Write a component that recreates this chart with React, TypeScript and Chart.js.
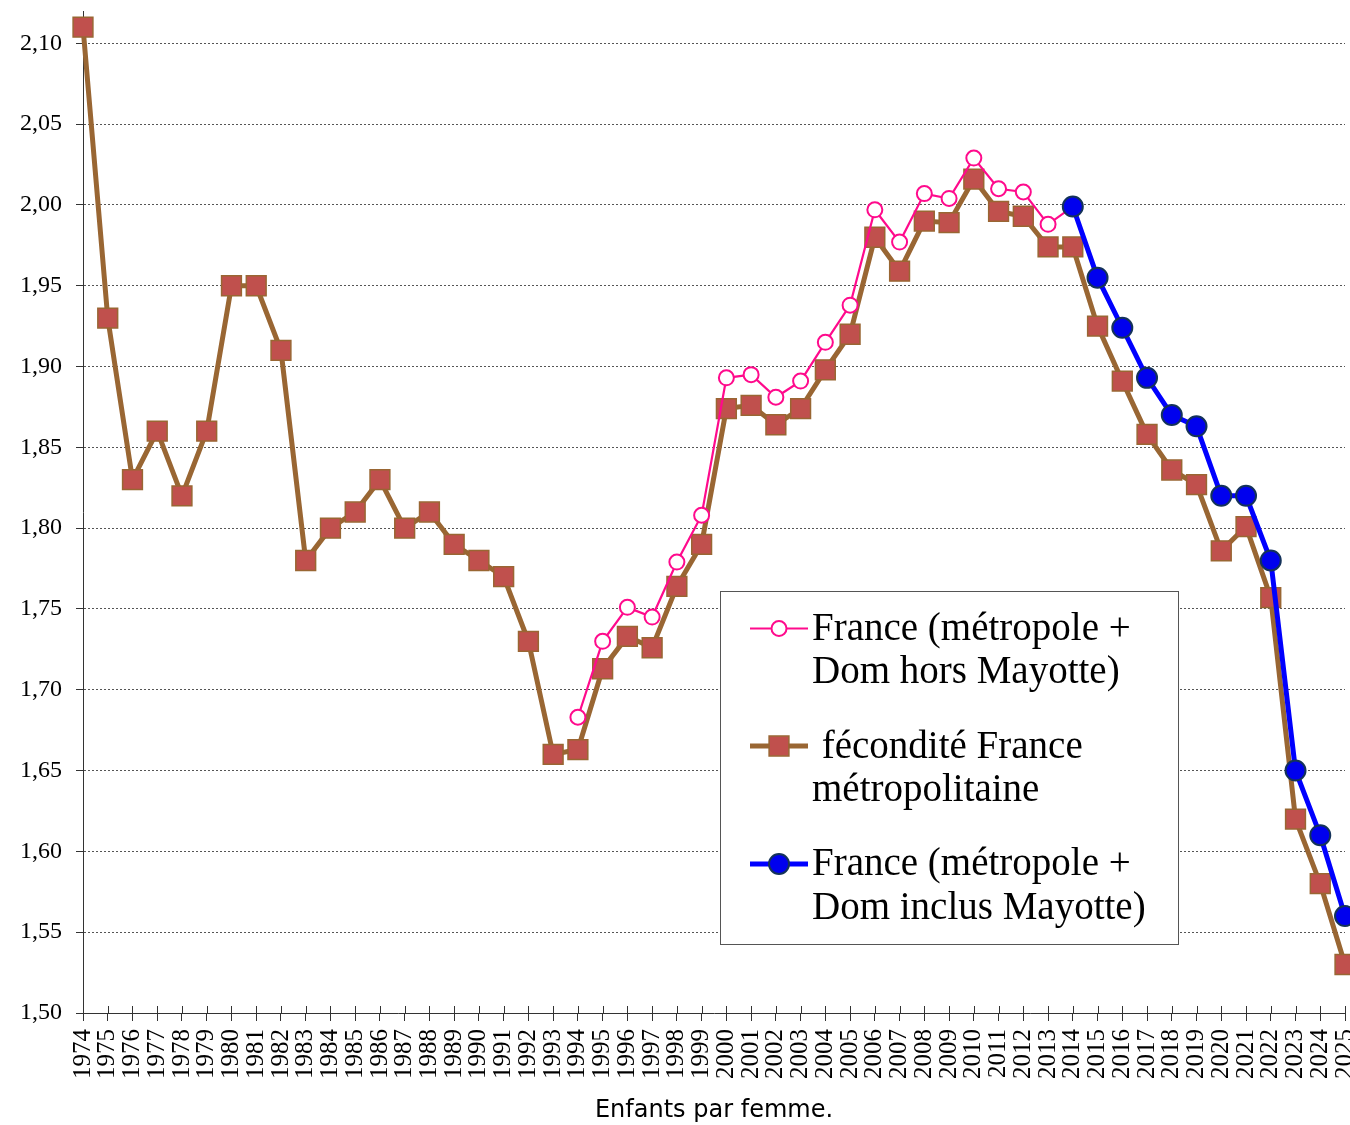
import React, { useEffect, useRef } from 'react';
import { Chart, registerables } from 'chart.js';

Chart.register(...registerables);

const years = [
  '1974', '1975', '1976', '1977', '1978', '1979', '1980', '1981', '1982', '1983',
  '1984', '1985', '1986', '1987', '1988', '1989', '1990', '1991', '1992', '1993',
  '1994', '1995', '1996', '1997', '1998', '1999', '2000', '2001', '2002', '2003',
  '2004', '2005', '2006', '2007', '2008', '2009', '2010', '2011', '2012', '2013',
  '2014', '2015', '2016', '2017', '2018', '2019', '2020', '2021', '2022', '2023',
  '2024', '2025',
];

// fécondité France métropolitaine (1974-2025)
const metropole = [
  2.11, 1.93, 1.83, 1.86, 1.82, 1.86, 1.95, 1.95, 1.91, 1.78,
  1.80, 1.81, 1.83, 1.80, 1.81, 1.79, 1.78, 1.77, 1.73, 1.66,
  1.663, 1.713, 1.733, 1.726, 1.764, 1.79, 1.874, 1.876, 1.864, 1.874,
  1.898, 1.92, 1.98, 1.959, 1.99, 1.989, 2.016, 1.996, 1.993, 1.974,
  1.974, 1.925, 1.891, 1.858, 1.836, 1.827, 1.786, 1.801, 1.757, 1.62,
  1.58, 1.53,
];

// France (métropole + Dom hors Mayotte), 1994-2014
const horsMayotte = [
  null, null, null, null, null, null, null, null, null, null,
  null, null, null, null, null, null, null, null, null, null,
  1.683, 1.73, 1.751, 1.745, 1.779, 1.808, 1.893, 1.895, 1.881, 1.891,
  1.915, 1.938, 1.997, 1.977, 2.007, 2.004, 2.029, 2.01, 2.008, 1.988,
  1.999, null, null, null, null, null, null, null, null, null,
  null, null,
];

// France (métropole + Dom inclus Mayotte), 2014-2025
const inclusMayotte = [
  null, null, null, null, null, null, null, null, null, null,
  null, null, null, null, null, null, null, null, null, null,
  null, null, null, null, null, null, null, null, null, null,
  null, null, null, null, null, null, null, null, null, null,
  1.999, 1.955, 1.924, 1.893, 1.87, 1.863, 1.82, 1.82, 1.78, 1.65,
  1.61, 1.56,
];

const yTicks = [1.5, 1.55, 1.6, 1.65, 1.7, 1.75, 1.8, 1.85, 1.9, 1.95, 2.0, 2.05, 2.1];

const seriesNames = [
  ['France (métropole +', 'Dom hors Mayotte)'],
  [' fécondité France', 'métropolitaine'],
  ['France (métropole +', 'Dom inclus Mayotte)'],
];
const xTitle = 'Enfants par femme.';

const SERIF = '"Liberation Serif", "Times New Roman", serif';

const PINK = '#FF0A8C';
const BROWN = '#996633';
const SQUARE = '#C0504D';
const BLUE = '#0000FF';
const BLUE_FILL = '#0000EE';
const BLUE_EDGE = '#14325A';

const xTicksUpPlugin = {
  id: 'xTicksUp',
  afterDatasetsDraw(chart: any) {
    const { ctx, chartArea } = chart;
    const x = chart.scales.x;
    ctx.save();
    ctx.strokeStyle = '#333';
    ctx.lineWidth = 1;
    ctx.beginPath();
    x.ticks.forEach((_t: any, i: number) => {
      const px = Math.round(x.getPixelForTick(i)) + 0.5;
      ctx.moveTo(px, chartArea.bottom - 7);
      ctx.lineTo(px, chartArea.bottom);
    });
    ctx.stroke();
    ctx.restore();
  },
};

const boxLegendPlugin = {
  id: 'boxLegend',
  afterDraw(chart: any) {
    const { ctx } = chart;
    const ds = chart.data.datasets;
    ctx.save();
    const bx = 720.5, by = 591.5, bw = 458, bh = 353;
    ctx.fillStyle = '#fff';
    ctx.fillRect(bx, by, bw, bh);
    ctx.strokeStyle = '#555';
    ctx.lineWidth = 1;
    ctx.strokeRect(bx, by, bw, bh);

    const markerYs = [628.5, 746, 864];
    const baselines = [[640, 683], [758, 801], [875, 919]];
    const lx1 = 750, lx2 = 808, mx = 779;

    ds.forEach((d: any, i: number) => {
      const my = markerYs[i];
      ctx.strokeStyle = d.borderColor;
      ctx.lineWidth = d.borderWidth;
      ctx.setLineDash([]);
      ctx.beginPath();
      ctx.moveTo(lx1, my);
      ctx.lineTo(lx2, my);
      ctx.stroke();
      ctx.fillStyle = d.pointBackgroundColor;
      ctx.strokeStyle = d.pointBorderColor;
      ctx.lineWidth = d.pointBorderWidth;
      ctx.beginPath();
      if (d.pointStyle === 'rect') {
        const s = d.pointRadius * Math.SQRT1_2;
        ctx.rect(mx - s, my - s, 2 * s, 2 * s);
      } else {
        ctx.arc(mx, my, d.pointRadius, 0, Math.PI * 2);
      }
      ctx.fill();
      ctx.stroke();

      ctx.fillStyle = '#000';
      ctx.font = `39px ${SERIF}`;
      ctx.textAlign = 'left';
      ctx.textBaseline = 'alphabetic';
      seriesNames[i].forEach((t, j) => {
        ctx.fillText(t, 812, baselines[i][j]);
      });
    });
    ctx.restore();
  },
};

export default function App() {
  const ref = useRef<HTMLCanvasElement | null>(null);

  useEffect(() => {
    if (!ref.current) return;
    const chart = new Chart(ref.current, {
      type: 'line',
      data: {
        labels: years,
        datasets: [
          {
            label: seriesNames[0].join(' '),
            data: horsMayotte,
            borderColor: PINK,
            borderWidth: 2.2,
            pointStyle: 'circle',
            pointRadius: 7.5,
            pointBackgroundColor: '#fff',
            pointBorderColor: PINK,
            pointBorderWidth: 2,
            order: 1,
            clip: false,
            tension: 0,
          } as any,
          {
            label: seriesNames[1].join(' '),
            data: metropole,
            borderColor: BROWN,
            borderWidth: 5,
            pointStyle: 'rect',
            pointRadius: 14,
            pointBackgroundColor: SQUARE,
            pointBorderColor: BROWN,
            pointBorderWidth: 1.5,
            order: 2,
            clip: false,
            tension: 0,
          } as any,
          {
            label: seriesNames[2].join(' '),
            data: inclusMayotte,
            borderColor: BLUE,
            borderWidth: 5,
            pointStyle: 'circle',
            pointRadius: 10,
            pointBackgroundColor: BLUE_FILL,
            pointBorderColor: BLUE_EDGE,
            pointBorderWidth: 2,
            order: 0,
            clip: false,
            tension: 0,
          } as any,
        ],
      },
      options: {
        responsive: false,
        animation: false,
        layout: { autoPadding: false, padding: { top: 11, right: 0, bottom: 0, left: 0 } },
        plugins: {
          legend: { display: false },
          tooltip: { enabled: false },
        },
        scales: {
          x: {
            type: 'category',
            offset: false,
            grid: {
              display: true,
              drawOnChartArea: false,
              drawTicks: true,
              tickLength: 8,
              tickColor: '#333',
            },
            border: { display: true, color: '#333', width: 1 },
            ticks: {
              autoSkip: false,
              maxRotation: 90,
              minRotation: 90,
              padding: 8,
              color: '#000',
              font: { family: SERIF, size: 25 },
            },
            title: {
              display: true,
              text: xTitle,
              color: '#000',
              font: { family: '"DejaVu Sans", sans-serif', size: 24 },
              padding: { top: 0, bottom: 0 },
            },
            afterFit(s: any) {
              s.height = 112;
              s.paddingLeft = 0;
              s.paddingRight = 5;
            },
          } as any,
          y: {
            min: 1.5,
            max: 2.12,
            afterBuildTicks(s: any) {
              s.ticks = yTicks.map((v) => ({ value: v }));
            },
            grid: {
              display: true,
              color: '#555',
              lineWidth: 1,
              drawTicks: true,
              tickLength: 7,
              tickColor: '#333',
            },
            border: { display: true, color: '#333', width: 1, dash: [2, 2] },
            ticks: {
              padding: 14,
              color: '#000',
              font: { family: SERIF, size: 24 },
              callback: (v: any) => Number(v).toFixed(2).replace('.', ','),
            },
            afterFit(s: any) {
              s.width = 83;
              s.paddingTop = 0;
              s.paddingBottom = 0;
            },
          } as any,
        },
      },
      plugins: [xTicksUpPlugin, boxLegendPlugin],
    });
    return () => chart.destroy();
  }, []);

  return (
    <div style={{ position: 'absolute', left: 0, top: 0, width: 1350, height: 1125, overflow: 'hidden', background: '#fff' }}>
      <canvas ref={ref} width={1350} height={1125} style={{ display: 'block' }} />
    </div>
  );
}
